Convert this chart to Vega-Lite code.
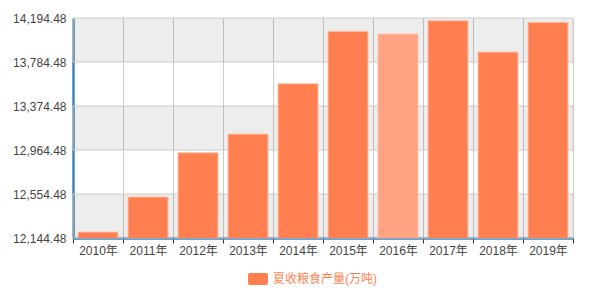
{
  "$schema": "https://vega.github.io/schema/vega-lite/v6.json",
  "width": 500,
  "height": 220,
  "autosize": {"type": "none"},
  "padding": {"left": 73, "top": 18, "right": 20, "bottom": 52},
  "background": "#ffffff",
  "config": {
    "view": {"stroke": null},
    "font": "Liberation Sans, Noto Sans CJK SC, sans-serif"
  },
  "datasets": {
    "harvest": [
      {"year": "2010年", "output": 12200},
      {"year": "2011年", "output": 12527},
      {"year": "2012年", "output": 12939},
      {"year": "2013年", "output": 13113},
      {"year": "2014年", "output": 13582},
      {"year": "2015年", "output": 14070},
      {"year": "2016年", "output": 14045},
      {"year": "2017年", "output": 14169},
      {"year": "2018年", "output": 13877},
      {"year": "2019年", "output": 14154}
    ],
    "bands": [
      {"lo": 13784.48, "hi": 14194.48},
      {"lo": 12964.48, "hi": 13374.48},
      {"lo": 12144.48, "hi": 12554.48}
    ]
  },
  "layer": [
    {
      "data": {"name": "bands"},
      "mark": {"type": "rect", "fill": "#000000", "fillOpacity": 0.072, "stroke": "#cccccc", "strokeOpacity": 1, "strokeWidth": 1},
      "encoding": {
        "y": {"field": "lo", "type": "quantitative"},
        "y2": {"field": "hi"}
      }
    },
    {
      "data": {"name": "harvest"},
      "mark": {"type": "bar", "clip": true, "width": {"band": 0.8}, "stroke": "#ffc2aa", "strokeWidth": 1},
      "encoding": {
        "x": {
          "field": "year",
          "type": "nominal",
          "sort": null,
          "scale": {"paddingInner": 0, "paddingOuter": 0},
          "axis": {
            "title": null,
            "labelAngle": 0,
            "tickBand": "extent",
            "grid": true,
            "gridColor": "#cccccc",
            "gridWidth": 1,
            "domainColor": "#4682b4",
            "domainWidth": 2.5,
            "tickColor": "#333333",
            "tickSize": 5,
            "labelFontSize": 12,
            "labelColor": "#444444",
            "labelPadding": 2
          }
        },
        "y": {
          "field": "output",
          "type": "quantitative",
          "scale": {"domain": [12144.48, 14194.48], "nice": false, "zero": false},
          "axis": {
            "title": null,
            "values": [12144.48, 12554.48, 12964.48, 13374.48, 13784.48, 14194.48],
            "format": ",.2f",
            "grid": false,
            "ticks": false,
            "domainColor": "#4682b4",
            "domainWidth": 2.5,
            "labelFontSize": 12,
            "labelColor": "#444444",
            "labelPadding": 7
          }
        },
        "fill": {
          "condition": {"test": "datum.year === '2016年'", "value": "#ffa382"},
          "datum": "夏收粮食产量(万吨)",
          "scale": {"range": ["#ff7f50"]},
          "legend": {
            "title": null,
            "orient": "none",
            "legendX": 175,
            "legendY": 251,
            "symbolType": "M-0.8,-0.6L0.8,-0.6A0.2,0.2 0 0 1 1,-0.4L1,0.4A0.2,0.2 0 0 1 0.8,0.6L-0.8,0.6A0.2,0.2 0 0 1 -1,0.4L-1,-0.4A0.2,0.2 0 0 1 -0.8,-0.6Z",
            "symbolSize": 400,
            "symbolStrokeWidth": 0,
            "symbolOpacity": 1,
            "labelColor": "#ff7f50",
            "labelFontSize": 12,
            "labelOffset": 5
          }
        }
      }
    }
  ]
}
